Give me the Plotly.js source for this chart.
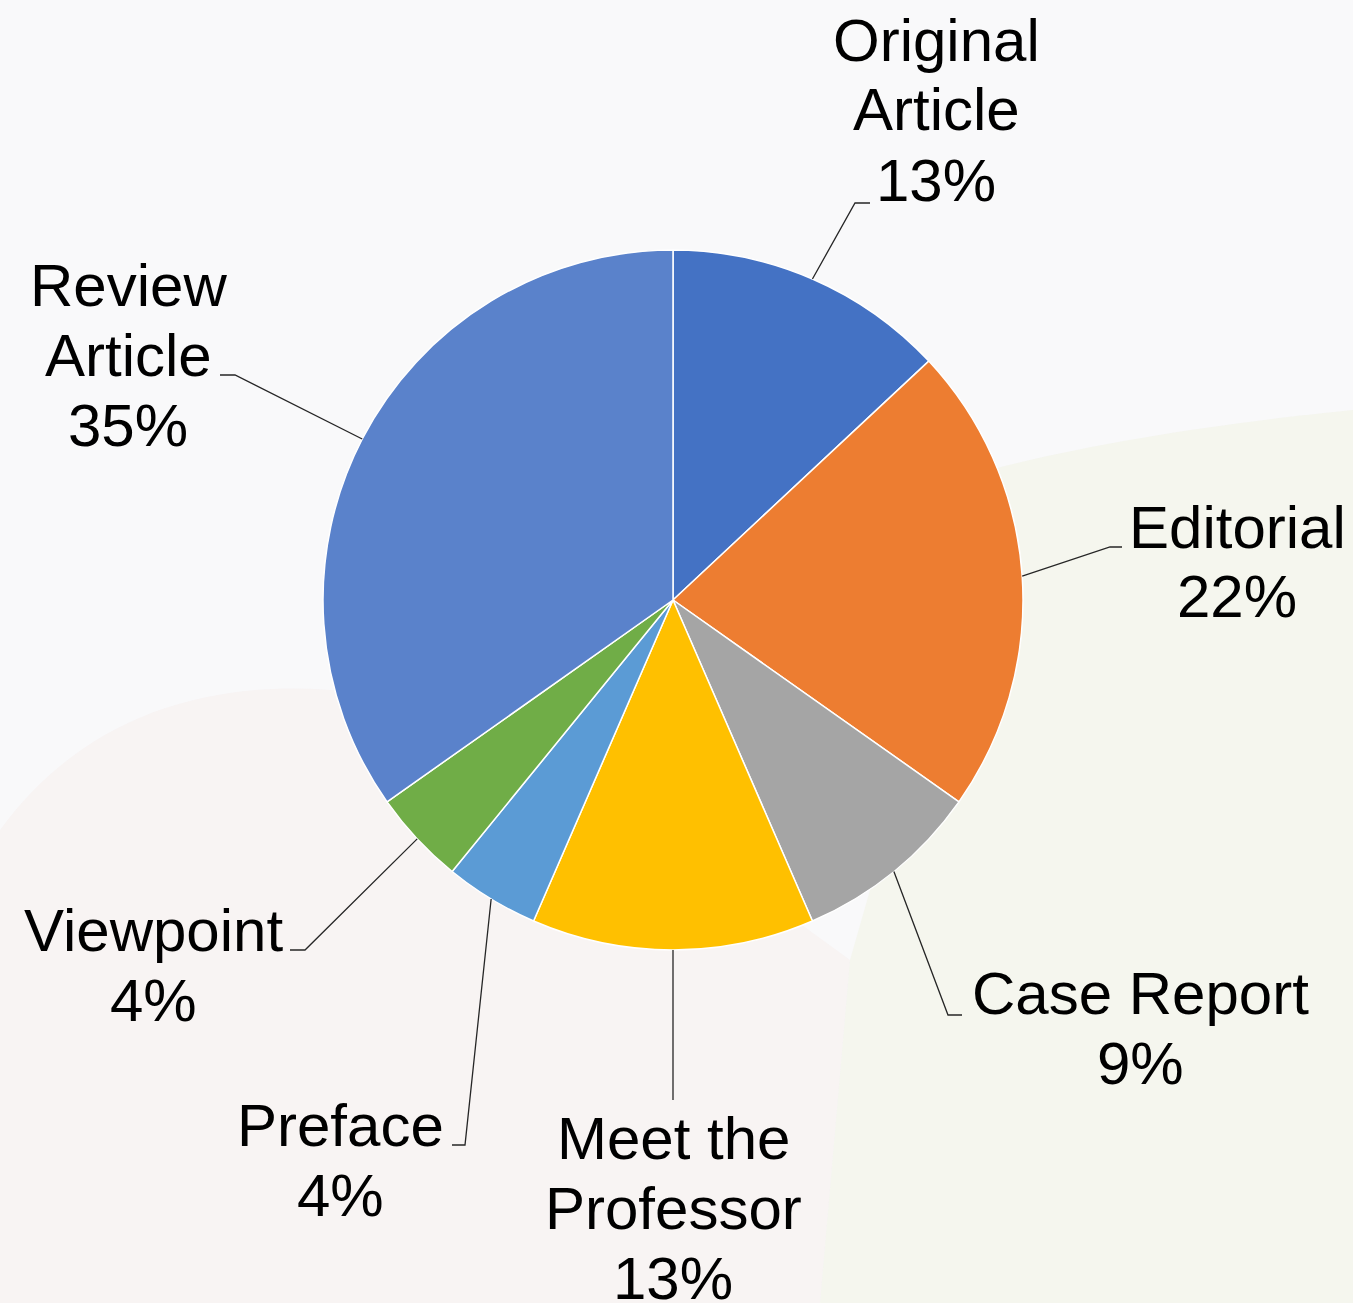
<!DOCTYPE html>
<html>
<head>
<meta charset="utf-8">
<script src="https://cdn.plot.ly/plotly-3.0.1.min.js"></script>
<style>html,body{margin:0;padding:0;background:#fafafa;}#chart{width:1353px;height:1303px;}</style>
</head>
<body>
<div id="chart"></div>
<script>
// ---- data ----
const categories = ['Original Article', 'Editorial', 'Case Report', 'Meet the Professor', 'Preface', 'Viewpoint', 'Review Article'];
const labelLines = [['Original', 'Article'], ['Editorial'], ['Case Report'], ['Meet the', 'Professor'], ['Preface'], ['Viewpoint'], ['Review', 'Article']];
const articleCounts = [3, 5, 2, 3, 1, 1, 8];
const sliceColors = ['#4472C4', '#ED7D31', '#A5A5A5', '#FFC000', '#5B9BD5', '#70AD47', '#5A82CB'];

// ---- layout (pixel geometry) ----
const W = 1353, H = 1303;
const CX = 673, CY = 600, R = 350;
// elbow point, end of leader, first-line centre of label text
const elbowPts = [[855, 203], [1110, 547], [948, 1015], [673, 1100], [465, 1145], [305, 950], [235, 375]];
const endPts   = [[870, 203], [1122, 547], [962, 1015], [673, 1100], [452, 1145], [290, 950], [220, 375]];
const labelPos = [[936, 40], [1237, 527], [1140, 993], [673, 1138], [340, 1125], [153, 930], [128, 285]];
const lineGap = 70;

const px = x => x / W;
const py = y => 1 - y / H;

const total = articleCounts.reduce((a, b) => a + b, 0);
let cum = 0;
const shapes = [];
const annotations = [];

// faint background tints
shapes.push({type:'path', xref:'paper', yref:'paper', layer:'below',
  path:`M ${px(0)} ${py(830)} C ${px(80)} ${py(720)}, ${px(200)} ${py(680)}, ${px(330)} ${py(690)} C ${px(500)} ${py(700)}, ${px(700)} ${py(850)}, ${px(850)} ${py(960)} L ${px(820)} ${py(1303)} L ${px(0)} ${py(1303)} Z`,
  fillcolor:'rgba(245,215,212,0.16)', line:{width:0}});
shapes.push({type:'path', xref:'paper', yref:'paper', layer:'below',
  path:`M ${px(990)} ${py(470)} C ${px(1100)} ${py(440)}, ${px(1250)} ${py(420)}, ${px(1353)} ${py(410)} L ${px(1353)} ${py(1303)} L ${px(820)} ${py(1303)} L ${px(850)} ${py(960)} Z`,
  fillcolor:'rgba(235,240,212,0.30)', line:{width:0}});

articleCounts.forEach((v, i) => {
  const mid = (cum + v / 2) / total * 2 * Math.PI;
  cum += v;
  const sx = CX + R * Math.sin(mid);
  const sy = CY - R * Math.cos(mid);
  const e = elbowPts[i], t = endPts[i];
  shapes.push({
    type: 'path', xref: 'paper', yref: 'paper', layer: 'above',
    path: `M ${px(sx)} ${py(sy)} L ${px(e[0])} ${py(e[1])} L ${px(t[0])} ${py(t[1])}`,
    line: {color: '#262626', width: 1.3}
  });
  const lines = labelLines[i].concat([Math.round(v / total * 100) + '%']);
  lines.forEach((txt, j) => {
    annotations.push({
      xref: 'paper', yref: 'paper',
      x: px(labelPos[i][0]), y: py(labelPos[i][1] + j * lineGap),
      xanchor: 'center', yanchor: 'middle', showarrow: false,
      text: txt,
      font: {family: 'Liberation Sans, Arial, sans-serif', size: 60, color: '#000000'}
    });
  });
});

const trace = {
  type: 'pie',
  labels: categories,
  values: articleCounts,
  sort: false,
  direction: 'clockwise',
  rotation: 0,
  textinfo: 'none',
  hoverinfo: 'label+percent',
  marker: {colors: sliceColors, line: {color: '#ffffff', width: 1.5}},
  domain: {x: [px(CX - R), px(CX + R)], y: [py(CY + R), py(CY - R)]},
  showlegend: false
};

const layout = {
  width: W, height: H,
  margin: {l: 0, r: 0, t: 0, b: 0},
  paper_bgcolor: '#f9f9fa',
  plot_bgcolor: 'rgba(0,0,0,0)',
  showlegend: false,
  shapes: shapes,
  annotations: annotations
};

Plotly.newPlot('chart', [trace], layout, {displayModeBar: false, staticPlot: true});
</script>
</body>
</html>
